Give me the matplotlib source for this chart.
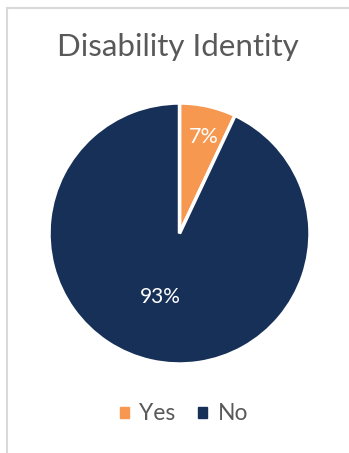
import matplotlib.pyplot as plt
from matplotlib.patches import Rectangle
from matplotlib.lines import Line2D

# Disability Identity - share of respondents
labels = ['Yes', 'No']
values = [7, 93]
pct_text = ['7%', '93%']
colors = ['#F79851', '#173057']

plt.rcParams['font.family'] = ['Lato', 'DejaVu Sans']

fig = plt.figure(figsize=(3.49, 4.53), dpi=100)

# light frame (top and left edges visible)
fig.add_artist(Line2D([7/349, 1], [1 - 8/453, 1 - 8/453], color='#D9D9D9', lw=1.5))
fig.add_artist(Line2D([7/349, 7/349], [0, 1 - 8/453], color='#D9D9D9', lw=1.5))

fig.text(178/349, 1 - 47/453, 'Disability Identity', ha='center', va='center',
         fontsize=22.5, color='#595959')

r = 130.5
cx, cy = 179.5, 233.5
ax = fig.add_axes([(cx - r) / 349, 1 - (cy + r) / 453, 2 * r / 349, 2 * r / 453])
wedges, texts = ax.pie(values, colors=colors, startangle=90, counterclock=False,
                       wedgeprops=dict(edgecolor='white', linewidth=2.5))
ax.set_xlim(-1, 1)
ax.set_ylim(-1, 1)
ax.set_aspect('auto')

# percentage labels
ax.text(0.19, 0.74, pct_text[0], ha='center', va='center', color='white', fontsize=15.5)
ax.text(-0.15, -0.49, pct_text[1], ha='center', va='center', color='white', fontsize=15)

handles = [Rectangle((0, 0), 1, 1, color=c) for c in colors]
fig.legend(handles, labels, loc='center', bbox_to_anchor=(184/349, 1 - 414/453), ncol=2,
           frameon=False, fontsize=16.5, handlelength=0.4, handleheight=0.4,
           handletextpad=0.45, columnspacing=1.0, labelcolor='#595959')

fig.savefig('out.png', dpi=100)
